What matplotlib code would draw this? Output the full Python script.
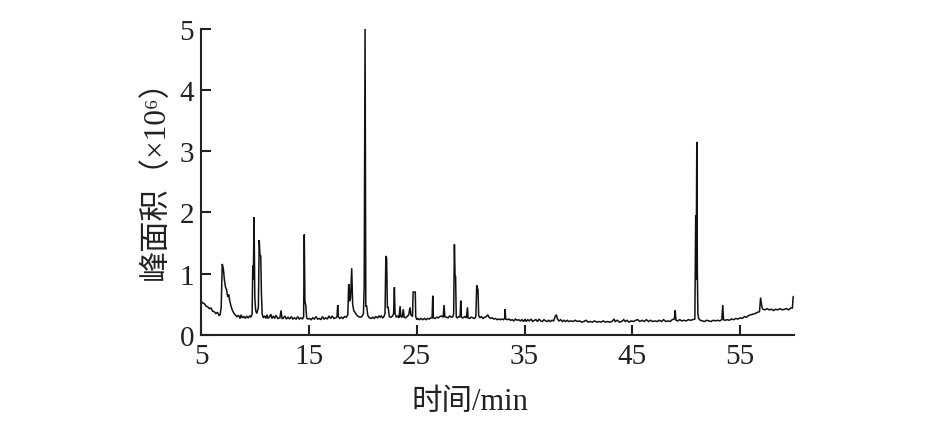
import matplotlib
matplotlib.use("Agg")
import matplotlib.pyplot as plt

# Retention time (min) and peak area (x10^6)
rt = [5.0, 5.15, 5.3, 5.45, 5.6, 5.75, 5.9, 6.05, 6.2, 6.35, 6.5, 6.65, 6.75, 6.85, 6.95, 7.05, 7.15, 7.25, 7.35, 7.45,
      7.55, 7.65, 7.75, 7.85, 7.95, 8.05, 8.15, 8.3, 8.45, 8.6, 8.7, 8.8, 8.95, 9.1, 9.2, 9.35, 9.5, 9.6, 9.7,
      9.72, 9.78, 9.83, 9.90, 9.97, 10.05, 10.15, 10.3, 10.38, 10.45, 10.52, 10.58, 10.65, 10.75,
      10.9, 11.0, 11.1, 11.2, 11.35, 11.45, 11.55, 11.7, 11.8, 11.95, 12.1, 12.3, 12.4, 12.5, 12.6, 12.75, 12.9,
      13.05, 13.2, 13.35, 13.5, 13.65, 13.8, 13.95, 14.1, 14.25, 14.4, 14.5, 14.56, 14.62, 14.7, 14.78, 14.9,
      15.05, 15.2, 15.35, 15.5, 15.65, 15.8, 15.95, 16.1, 16.25, 16.4, 16.55, 16.7, 16.85, 17.0, 17.15, 17.3,
      17.5, 17.6, 17.66, 17.72, 17.85, 18.0, 18.15, 18.3, 18.45, 18.6, 18.68, 18.75, 18.85, 18.96, 19.05, 19.15,
      19.3, 19.45, 19.6, 19.75, 19.9, 20.05, 20.12, 20.2, 20.27, 20.35, 20.45, 20.6,
      20.75, 20.9, 21.05, 21.2, 21.35, 21.5, 21.6, 21.7, 21.85, 21.95, 22.05, 22.13, 22.2, 22.27, 22.35, 22.45,
      22.6, 22.75, 22.85, 22.92, 22.98, 23.1, 23.25, 23.35, 23.45, 23.52, 23.65, 23.75, 23.82, 23.95, 24.1,
      24.25, 24.37, 24.45, 24.6, 24.66, 24.86, 24.9, 25.0, 25.1, 25.25, 25.4, 25.55, 25.7, 25.85, 26.0, 26.15,
      26.3, 26.42, 26.48, 26.54, 26.7, 26.85, 27.0, 27.15, 27.3, 27.45, 27.53, 27.6, 27.75, 27.9, 28.05, 28.2,
      28.35, 28.42, 28.49, 28.55, 28.6, 28.66, 28.75, 28.9, 29.02, 29.08, 29.14, 29.3, 29.45, 29.6, 29.7, 29.76,
      29.9, 30.05, 30.2, 30.35, 30.48, 30.56, 30.62, 30.68, 30.74, 30.85, 31.0, 31.15, 31.3, 31.45, 31.58, 31.7,
      31.85, 32.0, 32.15, 32.3, 32.45, 32.6, 32.75, 32.9, 33.05, 33.15, 33.19, 33.25, 33.4, 33.55, 33.7, 33.85,
      34.0, 34.15, 34.3, 34.45, 34.6, 34.75, 34.9, 35.05, 35.15, 35.3, 35.45, 35.6, 35.75, 35.9, 36.05, 36.2,
      36.35, 36.5, 36.65, 36.8, 36.95, 37.1, 37.25, 37.4, 37.55, 37.7, 37.85, 37.95, 38.05, 38.2, 38.35, 38.5,
      38.65, 38.8, 38.95, 39.1, 39.3, 39.5, 39.7, 39.9, 40.1, 40.3, 40.5, 40.7, 40.9, 41.1, 41.3, 41.5, 41.7,
      41.9, 42.1, 42.3, 42.5, 42.7, 42.9, 43.1, 43.3, 43.4, 43.6, 43.8, 44.0, 44.2, 44.35, 44.5, 44.7, 44.9,
      45.1, 45.3, 45.5, 45.7, 45.9, 46.1, 46.3, 46.5, 46.7, 46.9, 47.1, 47.3, 47.5, 47.7, 47.9, 48.1, 48.3,
      48.5, 48.7, 48.9, 48.97, 49.05, 49.2, 49.4, 49.6, 49.8, 50.0, 50.2, 50.4, 50.6, 50.8, 50.88, 50.92, 50.98,
      51.03, 51.08, 51.15, 51.3, 51.5, 51.7, 51.9, 52.1, 52.3, 52.5, 52.7, 52.9, 53.1, 53.3, 53.39, 53.46, 53.6,
      53.8, 54.0, 54.2, 54.4, 54.6, 54.8, 55.0, 55.2, 55.4, 55.6, 55.8, 56.0, 56.2, 56.4, 56.6, 56.8, 56.9,
      57.0, 57.1, 57.3, 57.5, 57.7, 57.9, 58.1, 58.3, 58.5, 58.7, 58.9, 59.1, 59.3, 59.5, 59.7, 59.85, 59.92, 60.0]

area = [0.55, 0.52, 0.51, 0.47, 0.46, 0.43, 0.44, 0.39, 0.38, 0.35, 0.37, 0.32, 0.33, 0.45, 1.16, 1.08, 0.90, 0.78, 0.74, 0.62,
        0.66, 0.55, 0.48, 0.42, 0.38, 0.35, 0.33, 0.30, 0.32, 0.27, 0.33, 0.28, 0.30, 0.27, 0.31, 0.28, 0.31, 0.29, 0.33,
        0.35, 1.13, 0.90, 1.92, 0.60, 0.40, 0.35, 0.45, 1.55, 1.30, 1.29, 0.70, 0.35, 0.28,
        0.31, 0.27, 0.33, 0.27, 0.30, 0.34, 0.27, 0.31, 0.27, 0.32, 0.27, 0.28, 0.40, 0.27, 0.27, 0.31, 0.26,
        0.29, 0.26, 0.30, 0.26, 0.28, 0.26, 0.30, 0.26, 0.28, 0.26, 0.30, 1.64, 0.55, 0.48, 0.28, 0.26,
        0.27, 0.25, 0.28, 0.26, 0.30, 0.26, 0.27, 0.25, 0.30, 0.26, 0.28, 0.26, 0.31, 0.27, 0.31, 0.27,
        0.28, 0.30, 0.49, 0.30, 0.27, 0.29, 0.27, 0.30, 0.29, 0.33, 0.83, 0.55, 0.60, 1.09, 0.50, 0.40,
        0.36, 0.32, 0.30, 0.29, 0.30, 0.35, 0.80, 5.00, 0.47, 0.47, 0.32, 0.28,
        0.27, 0.29, 0.27, 0.30, 0.28, 0.31, 0.29, 0.31, 0.28, 0.30, 0.35, 1.29, 1.25, 0.45, 0.45, 0.30,
        0.29, 0.31, 0.35, 0.78, 0.35, 0.29, 0.31, 0.28, 0.47, 0.30, 0.29, 0.42, 0.29, 0.28, 0.30,
        0.33, 0.45, 0.33, 0.30, 0.70, 0.70, 0.30, 0.25, 0.27, 0.25, 0.27, 0.25, 0.27, 0.25, 0.27, 0.26,
        0.28, 0.28, 0.64, 0.28, 0.27, 0.29, 0.28, 0.30, 0.31, 0.29, 0.49, 0.30, 0.29, 0.28, 0.31, 0.29,
        0.30, 0.35, 1.48, 0.97, 0.95, 0.30, 0.28, 0.30, 0.30, 0.56, 0.29, 0.28, 0.30, 0.28, 0.45, 0.28,
        0.27, 0.29, 0.28, 0.27, 0.30, 0.81, 0.76, 0.74, 0.32, 0.28, 0.30, 0.27, 0.29, 0.30, 0.33, 0.29,
        0.27, 0.28, 0.26, 0.27, 0.25, 0.26, 0.25, 0.26, 0.25, 0.27, 0.42, 0.26, 0.25, 0.26, 0.24, 0.25,
        0.23, 0.26, 0.24, 0.25, 0.23, 0.25, 0.22, 0.26, 0.22, 0.25, 0.23, 0.26, 0.22, 0.24, 0.25, 0.22,
        0.26, 0.23, 0.22, 0.25, 0.23, 0.22, 0.24, 0.22, 0.24, 0.23, 0.31, 0.33, 0.26, 0.23, 0.25, 0.22,
        0.24, 0.22, 0.24, 0.22, 0.23, 0.22, 0.24, 0.22, 0.23, 0.21, 0.22, 0.24, 0.21, 0.22, 0.21, 0.23, 0.21,
        0.22, 0.21, 0.23, 0.21, 0.22, 0.21, 0.22, 0.26, 0.22, 0.24, 0.21, 0.22, 0.25, 0.22, 0.24, 0.21, 0.23,
        0.22, 0.24, 0.25, 0.22, 0.24, 0.22, 0.25, 0.22, 0.24, 0.22, 0.23, 0.22, 0.24, 0.22, 0.25, 0.22, 0.23,
        0.22, 0.25, 0.26, 0.40, 0.24, 0.23, 0.25, 0.23, 0.24, 0.23, 0.25, 0.24, 0.25, 0.26, 1.95, 0.90, 3.15,
        1.05, 0.35, 0.27, 0.24, 0.23, 0.22, 0.24, 0.23, 0.22, 0.24, 0.23, 0.24, 0.23, 0.25, 0.49, 0.25, 0.24,
        0.25, 0.24, 0.26, 0.25, 0.27, 0.26, 0.28, 0.27, 0.30, 0.29, 0.32, 0.33, 0.34, 0.35, 0.37, 0.38, 0.61,
        0.48, 0.42, 0.41, 0.43, 0.41, 0.42, 0.40, 0.42, 0.41, 0.43, 0.41, 0.42, 0.43, 0.41, 0.44, 0.44, 0.62, 0.63]

x_ticks = [5, 15, 25, 35, 45, 55]
y_ticks = [0, 1, 2, 3, 4, 5]
x_label = "时间/min"
y_label = "峰面积（×10⁶）"

fam = ["Liberation Serif", "Noto Sans CJK SC", "DejaVu Sans"]
plt.rcParams["font.family"] = fam

fig = plt.figure(figsize=(9.28, 4.35), dpi=100)
ax = fig.add_axes([201.25 / 928, 1 - 336 / 435, (794 - 201.25) / 928, (336 - 29.5) / 435])

ax.plot(rt, area, color="#111111", lw=1.1, solid_joinstyle="miter")

ax.set_xlim(5, 60)
ax.set_ylim(0, 5)
ax.set_xticks(x_ticks)
ax.set_yticks(y_ticks)
ax.set_xticklabels([str(v) for v in x_ticks])
ax.set_yticklabels([str(v) for v in y_ticks])

for s in ["top", "right"]:
    ax.spines[s].set_visible(False)
for s in ["left", "bottom"]:
    ax.spines[s].set_linewidth(1.5)
    ax.spines[s].set_color("#222222")

ax.tick_params(axis="both", direction="in", length=7, width=1.5, color="#222222",
               labelsize=21, labelcolor="#222222")
ax.tick_params(axis="x", pad=6)
ax.tick_params(axis="y", pad=5)
ax.patch.set_visible(False)

fig.text(470 / 928, 1 - 403 / 435, x_label, fontsize=22, ha="center", va="center",
         color="#222222", family=fam)
fig.text(156 / 928, 1 - 172 / 435, y_label, fontsize=22.5, ha="center", va="center",
         rotation=90, color="#222222", family=fam)

fig.savefig("out.png", dpi=100)
